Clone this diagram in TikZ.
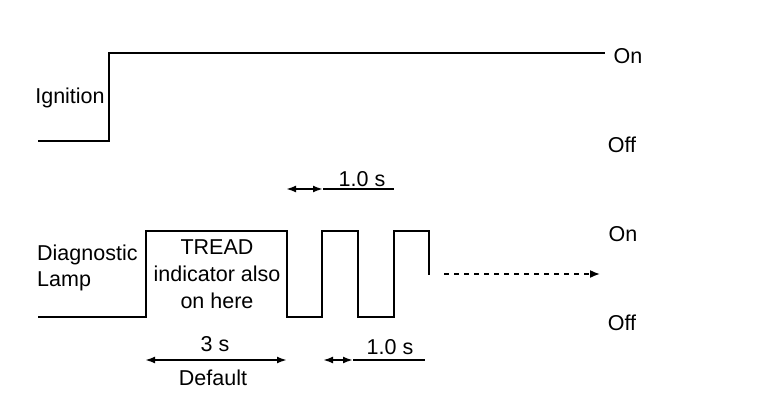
\documentclass[tikz,border=0pt]{standalone}
\usepackage{fontspec}
\setmainfont{Liberation Sans}
\usetikzlibrary{arrows.meta}
\begin{document}
\begin{tikzpicture}[x=1pt,y=-1pt,
  sig/.style={line width=2.2pt,line join=miter},
  dim/.style={line width=2pt},
  tips/.style={{Latex[length=10pt,width=7pt]}-{Latex[length=10pt,width=7pt]}},
  lbl/.style={font=\fontsize{21.5}{25}\selectfont,inner sep=0pt},
]
\useasboundingbox (0,0) rectangle (768,414);
% Ignition signal
\coordinate (i0) at (38,141);
\coordinate (i1) at (109,141);
\coordinate (i2) at (109,53);
\coordinate (i3) at (605,53);
\draw[sig] (i0) -- (i1) -- (i2) -- (i3);
\node[lbl] (ign) at (70,98) {Ignition};
\node[lbl] (on1) at (628,56) {On};
\node[lbl] (off1) at (622,145) {Off};
% Lamp signal
\coordinate (l0) at (38,317);
\coordinate (l1) at (146,317);
\coordinate (l2) at (146,231);
\coordinate (l3) at (287,231);
\coordinate (l4) at (287,317);
\coordinate (l5) at (322,317);
\coordinate (l6) at (322,231);
\coordinate (l7) at (358,231);
\coordinate (l8) at (358,317);
\coordinate (l9) at (394,317);
\coordinate (l10) at (394,231);
\coordinate (l11) at (429,231);
\coordinate (l12) at (429,275);
\draw[sig] (l0) -- (l1) -- (l2) -- (l3) -- (l4) -- (l5) -- (l6) -- (l7) -- (l8) -- (l9) -- (l10) -- (l11) -- (l12);
\coordinate (d0) at (444,274);
\coordinate (d1) at (600,274);
\draw[line width=1.6pt,dash pattern=on 5pt off 5pt,-{Latex[length=10pt,width=8pt]}] (d0) -- (d1);
\node[lbl,anchor=west] (diag) at (37,255) {Diagnostic};
\node[lbl,anchor=west] (lamp) at (37,281) {Lamp};
\node[lbl] (t1) at (217,247) {TREAD};
\node[lbl] (t2) at (217,274) {indicator also};
\node[lbl] (t3) at (217,301) {on here};
\node[lbl] (on2) at (623,234) {On};
\node[lbl] (off2) at (622,323) {Off};
% Top dimension
\coordinate (a1) at (286,189);
\coordinate (a2) at (323,189);
\coordinate (a3) at (394,189);
\draw[dim,tips] (a1) -- (a2);
\draw[dim] (a2) -- (a3);
\node[lbl] (s1) at (362,179) {1.0 s};
% Bottom dimensions
\coordinate (b1) at (145,360);
\coordinate (b2) at (287,360);
\draw[dim,tips] (b1) -- (b2);
\node[lbl] (s3) at (215,344) {3 s};
\node[lbl] (def) at (213,378) {Default};
\coordinate (c1) at (323,360);
\coordinate (c2) at (353,360);
\coordinate (c3) at (425,360);
\draw[dim,tips] (c1) -- (c2);
\draw[dim] (c2) -- (c3);
\node[lbl] (s2) at (390,347) {1.0 s};
\end{tikzpicture}
\end{document}
